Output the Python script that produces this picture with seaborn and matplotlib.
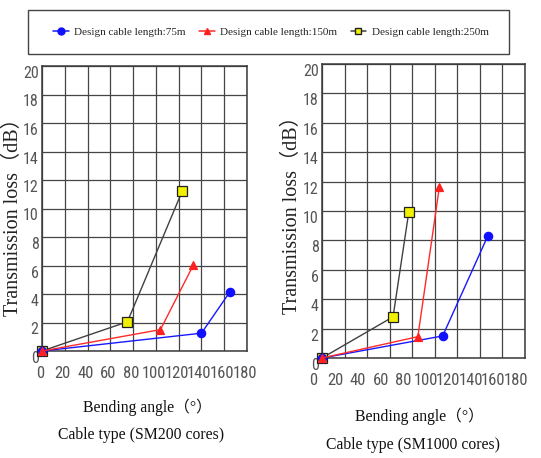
import matplotlib
matplotlib.use("Agg")
import matplotlib.pyplot as plt
import matplotlib.transforms as mtransforms
from matplotlib import font_manager
from matplotlib.patches import Rectangle
from matplotlib.lines import Line2D
import seaborn as sns

# --- data ---
# Cable type SM200 cores
sm200_angle_75 = [0, 140, 165]
sm200_loss_75 = [0, 1.25, 4.15]
sm200_angle_150 = [0, 104, 133]
sm200_loss_150 = [0, 1.5, 6.05]
sm200_angle_250 = [0, 75, 123]
sm200_loss_250 = [0, 2.05, 11.2]

# Cable type SM1000 cores
sm1000_angle_75 = [0, 107, 147]
sm1000_loss_75 = [0, 1.5, 8.3]
sm1000_angle_150 = [0, 85, 104]
sm1000_loss_150 = [0, 1.45, 11.6]
sm1000_angle_250 = [0, 63, 77]
sm1000_loss_250 = [0, 2.8, 9.95]

x_ticks = [0, 20, 40, 60, 80, 100, 120, 140, 160, 180]
y_ticks = [0, 2, 4, 6, 8, 10, 12, 14, 16, 18, 20]
legend_labels = ["Design cable length:75m", "Design cable length:150m", "Design cable length:250m"]

sns.set_style("white")
serif = ["Liberation Serif", "Noto Sans CJK SC"]

# look for a condensed sans face for the cramped tick numbers
narrow_family, narrow_stretch, narrow_found = "Liberation Sans", "normal", False
for cand in ["Liberation Sans Narrow", "Arial Narrow", "Roboto Condensed", "DejaVu Sans Condensed"]:
    if any(f.name == cand for f in font_manager.fontManager.ttflist):
        narrow_family, narrow_found = cand, True
        break
if not narrow_found:
    for f in font_manager.fontManager.ttflist:
        if f.stretch in ("condensed", "semi-condensed", "extra-condensed") and f.style == "normal" \
                and f.weight in (400, "normal", "regular") and "Mono" not in f.name and "Serif" not in f.name:
            narrow_family, narrow_stretch, narrow_found = f.name, f.stretch, True
            break
x_tick_size = 12 if narrow_found else 9.5
y_tick_size = 11.5 if narrow_found else 10

fig = plt.figure(figsize=(5.41, 4.58), dpi=100)
ax1 = fig.add_axes([42 / 541, 1 - 351 / 458, 205 / 541, 285 / 458])
ax2 = fig.add_axes([322 / 541, 1 - 358 / 458, 203 / 541, 294 / 458])

styles = {
    "75": dict(color="#1818ff", marker="o", markersize=6, markerfacecolor="#1010ff", markeredgecolor="#1010ff"),
    "150": dict(color="#ff2a2a", marker="^", markersize=6, markerfacecolor="#ff2020", markeredgecolor="#ff2020"),
    "250": dict(color="#404040", marker="s", markersize=6.5, markerfacecolor="#f0f000", markeredgecolor="#202020"),
}


def draw_panel(ax, series, xoff):
    for key, (xs, ys) in series:
        sns.lineplot(x=xs, y=ys, ax=ax, sort=False, linewidth=1.0, markeredgewidth=0.9,
                     clip_on=False, zorder=3, **styles[key])
    ax.set_xlim(0, 180)
    ax.set_ylim(0, 20)
    ax.set_xticks(x_ticks)
    ax.set_yticks(y_ticks)
    ax.grid(True, color="#454545", linewidth=0.9)
    ax.set_axisbelow(True)
    for sp in ax.spines.values():
        sp.set_color("#3a3a3a")
        sp.set_linewidth(1.1)
    ax.tick_params(axis="y", length=2, width=0.9, color="#454545", pad=0.5)
    ax.tick_params(axis="x", length=0, pad=11)
    shift = mtransforms.ScaledTranslation(xoff / 100, 0, fig.dpi_scale_trans)
    for lab in ax.get_xticklabels():
        lab.set_fontfamily(narrow_family)
        lab.set_fontstretch(narrow_stretch)
        lab.set_fontsize(x_tick_size)
        lab.set_color("#555555")
        lab.set_transform(lab.get_transform() + shift)
    for lab in ax.get_yticklabels():
        lab.set_fontfamily(narrow_family)
        lab.set_fontstretch(narrow_stretch)
        lab.set_fontsize(y_tick_size)
        lab.set_color("#555555")
        lab.set_verticalalignment("top")
    ax.set_xlabel("")
    ax.set_ylabel("")
    return ax


draw_panel(ax1, [("250", (sm200_angle_250, sm200_loss_250)),
                 ("75", (sm200_angle_75, sm200_loss_75)),
                 ("150", (sm200_angle_150, sm200_loss_150))], -2)
draw_panel(ax2, [("250", (sm1000_angle_250, sm1000_loss_250)),
                 ("75", (sm1000_angle_75, sm1000_loss_75)),
                 ("150", (sm1000_angle_150, sm1000_loss_150))], -9)

# axis titles placed as in the reference
fig.text(13 / 541, 1 - 212 / 458, "Transmission loss（dB）", rotation=90, ha="center", va="center",
         fontsize=14.5, family=serif, color="#222222")
fig.text(292 / 541, 1 - 210 / 458, "Transmission loss（dB）", rotation=90, ha="center", va="center",
         fontsize=14.5, family=serif, color="#222222")
fig.text(147 / 541, 1 - 407 / 458, "Bending angle（°）", ha="center", va="center",
         fontsize=11.3, family=serif, color="#111111")
fig.text(141 / 541, 1 - 435 / 458, "Cable type (SM200 cores)", ha="center", va="center",
         fontsize=11.3, family=serif, color="#111111")
fig.text(419 / 541, 1 - 416 / 458, "Bending angle（°）", ha="center", va="center",
         fontsize=11.3, family=serif, color="#111111")
fig.text(413 / 541, 1 - 445 / 458, "Cable type (SM1000 cores)", ha="center", va="center",
         fontsize=11.3, family=serif, color="#111111")

# legend in a framed box across the top
fig.patches.append(Rectangle((28 / 541, 1 - 54 / 458), 481 / 541, 44 / 458, transform=fig.transFigure,
                             fill=False, edgecolor="#444444", linewidth=1.0))
handles = [Line2D([], [], linewidth=1.1, **styles[k]) for k in ["75", "150", "250"]]
for h in handles:
    h.set_markersize(5)
fig.legend(handles, legend_labels, loc="center", bbox_to_anchor=(271 / 541, 1 - 32 / 458),
           ncol=3, frameon=False, handlelength=1.4, handletextpad=0.5, columnspacing=1.2,
           prop={"family": serif, "size": 8})

fig.savefig("out.png", dpi=100)
